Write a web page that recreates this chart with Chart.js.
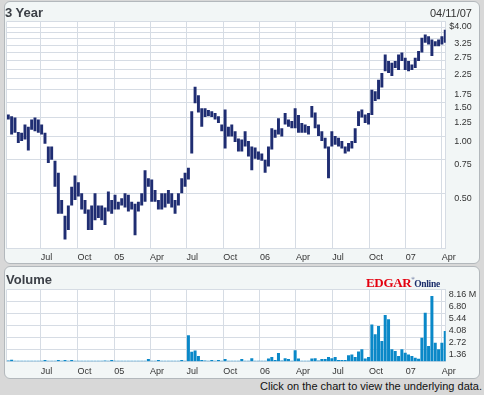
<!DOCTYPE html>
<html>
<head>
<meta charset="utf-8">
<script src="https://cdn.jsdelivr.net/npm/chart.js@4.4.0/dist/chart.umd.min.js"></script>
<style>
  body { margin: 0; width: 484px; height: 395px; overflow: hidden; background: #d8d8d8; position: relative;
         font-family: "Liberation Sans", Arial, sans-serif; }
  .panel { position: absolute; left: 4px; width: 476px; background: #f2f6f6; border: 1px solid #b3b8bc;
           border-radius: 6px; box-sizing: border-box; }
  #p1 { top: 1px; height: 263px; }
  #p2 { top: 266px; height: 113px; }
  canvas { position: absolute; left: 0; }
  #priceCanvas { top: 0; }
  #volCanvas { top: 264px; }
  .txt { position: absolute; white-space: nowrap; color: #3c4047; }
  #title1 { left: 5px; top: 6px; font: bold 13px/13px "Liberation Sans", Arial, sans-serif; }
  #asof { right: 12px; top: 8px; font: 11px/11px "Liberation Sans", Arial, sans-serif; color: #333; }
  #title2 { left: 6px; top: 273px; font: bold 13px/13px "Liberation Sans", Arial, sans-serif; }
  #logo { left: 366px; top: 272px; font: bold 13px/13px "Liberation Serif", "Times New Roman", serif; letter-spacing: -0.3px; }
  #logo .e { color: #e4000f; }
  #logo .o { color: #1b2d6b; font-size: 9.5px; }
  #logo .r { color: #1b2d6b; font-size: 4px; vertical-align: 7px; }
  #note { right: 2px; top: 381px; font: 11px/11px "Liberation Sans", Arial, sans-serif; color: #111; }
</style>
</head>
<body>
<div class="panel" id="p1"></div>
<div class="panel" id="p2"></div>
<canvas id="priceCanvas" width="484" height="263"></canvas>
<canvas id="volCanvas" width="484" height="116"></canvas>
<div class="txt" id="title1">3 Year</div>
<div class="txt" id="asof">04/11/07</div>
<div class="txt" id="title2">Volume</div>
<div class="txt" id="logo"><span class="e">EDGAR</span><span class="r">®</span><span class="o">Online</span></div>
<div class="txt" id="note">Click on the chart to view the underlying data.</div>
<script>
// sampled about every 6 trading days, first sample 4 days after the axis start
const axisStart = Date.UTC(2004, 3, 7);
const axisEnd = Date.UTC(2007, 3, 11);
const firstSampleDay = 4;
const sampleStepDays = 8.35;

const monthTickDates = ['2004-07-01', '2004-10-01', '2005-01-01', '2005-04-01', '2005-07-01', '2005-10-01',
  '2006-01-01', '2006-04-01', '2006-07-01', '2006-10-01', '2007-01-01', '2007-04-01'];
const monthTickLabels = ['Jul', 'Oct', '05', 'Apr', 'Jul', 'Oct', '06', 'Apr', 'Jul', 'Oct', '07', 'Apr'];

const priceGrid = [0.5, 0.75, 1, 1.25, 1.5, 1.75, 2, 2.25, 2.5, 2.75, 3, 3.25, 3.5, 3.75, 4];
const priceLabelled = [0.5, 0.75, 1, 1.25, 1.5, 1.75, 2.25, 2.75, 3.25, 4];
const volumeTicks = [0, 1.36, 2.72, 4.08, 5.44, 6.8, 8.16];

const highs = [1.30, 1.27, 1.25, 1.05, 1.04, 1.15, 1.12, 1.22, 1.25, 1.22, 1.15, 1.04, 0.88, 0.88, 0.74, 0.64,
  0.46, 0.38, 0.43, 0.54, 0.62, 0.57, 0.50, 0.46, 0.41, 0.43, 0.50, 0.43, 0.43, 0.42, 0.51, 0.46,
  0.49, 0.45, 0.47, 0.50, 0.49, 0.45, 0.44, 0.45, 0.50, 0.66, 0.60, 0.59, 0.52, 0.46, 0.50, 0.50,
  0.52, 0.50, 0.46, 0.50, 0.60, 0.64, 0.68, 1.35, 1.82, 1.64, 1.40, 1.40, 1.37, 1.35, 1.32, 1.27,
  1.15, 1.38, 1.12, 1.15, 1.06, 0.97, 0.96, 1.06, 0.94, 0.88, 0.87, 0.83, 0.81, 0.75, 0.88, 1.10,
  1.08, 1.24, 1.10, 1.32, 1.22, 1.20, 1.40, 1.29, 1.17, 1.15, 1.13, 1.44, 1.33, 1.15, 1.06, 0.98,
  0.88, 1.06, 1.00, 0.98, 0.94, 0.88, 0.92, 0.94, 1.10, 1.35, 1.38, 1.30, 1.32, 1.75, 1.72, 1.98,
  2.15, 2.69, 2.48, 2.43, 2.48, 2.69, 2.75, 2.58, 2.48, 2.38, 2.58, 2.80, 3.29, 3.42, 3.35, 3.22,
  3.16, 3.22, 3.35, 3.63];
const lows = [1.22, 1.02, 1.04, 0.92, 0.94, 0.96, 0.84, 1.08, 1.06, 1.04, 1.02, 0.91, 0.72, 0.75, 0.54, 0.39,
  0.39, 0.285, 0.32, 0.43, 0.46, 0.48, 0.41, 0.39, 0.32, 0.32, 0.36, 0.37, 0.36, 0.34, 0.40, 0.39,
  0.41, 0.41, 0.43, 0.42, 0.40, 0.41, 0.30, 0.40, 0.43, 0.45, 0.54, 0.45, 0.45, 0.41, 0.41, 0.42,
  0.44, 0.42, 0.39, 0.43, 0.50, 0.54, 0.59, 0.81, 1.49, 1.33, 1.12, 1.26, 1.27, 1.26, 1.22, 1.17,
  1.06, 0.86, 0.995, 0.995, 0.93, 0.83, 0.83, 0.88, 0.78, 0.66, 0.76, 0.75, 0.74, 0.64, 0.69, 0.85,
  0.98, 1.02, 0.995, 1.15, 1.12, 1.10, 1.10, 1.04, 1.04, 1.04, 1.02, 1.25, 1.10, 1.00, 0.94, 0.86,
  0.60, 0.88, 0.90, 0.88, 0.86, 0.81, 0.83, 0.86, 0.92, 1.13, 1.25, 1.17, 1.15, 1.29, 1.53, 1.56,
  1.80, 2.19, 2.15, 2.07, 2.28, 2.23, 2.48, 2.23, 2.19, 2.23, 2.28, 2.48, 2.75, 3.10, 3.03, 2.64,
  2.97, 2.97, 3.03, 3.10];
// volume in millions of shares
const volumes = [0.15, 0.22, 0.11, 0.11, 0.11, 0.11, 0.11, 0.11, 0.11, 0.11, 0.11, 0.18, 0.11, 0.11, 0.11, 0.18,
  0.11, 0.18, 0.11, 0.18, 0.11, 0.11, 0.11, 0.11, 0.11, 0.11, 0.11, 0.11, 0.11, 0.15, 0.11, 0.20,
  0.11, 0.11, 0.11, 0.11, 0.11, 0.11, 0.11, 0.11, 0.11, 0.11, 0.30, 0.11, 0.11, 0.18, 0.11, 0.11,
  0.11, 0.11, 0.11, 0.11, 0.18, 0.11, 3.00, 1.13, 1.28, 0.64, 0.19, 0.15, 0.12, 0.20, 0.11, 0.20,
  0.11, 0.30, 0.11, 0.11, 0.11, 0.11, 0.30, 0.11, 0.11, 0.40, 0.11, 0.11, 0.11, 0.11, 0.35, 0.53,
  0.20, 1.00, 0.15, 0.40, 0.30, 0.12, 1.30, 0.35, 0.12, 0.12, 0.12, 0.35, 0.40, 0.15, 0.30, 0.30,
  0.53, 0.40, 0.53, 0.20, 0.20, 0.20, 0.72, 0.83, 0.53, 1.17, 1.40, 0.35, 0.53, 4.23, 3.10, 4.04,
  2.34, 5.29, 4.80, 1.40, 1.21, 0.64, 1.40, 1.02, 0.83, 0.64, 0.45, 0.34, 2.72, 5.55, 1.78, 7.44,
  2.15, 1.40, 2.15, 3.48];

const dayOf = (iso) => (Date.parse(iso) - axisStart) / 864e5;
const maxDay = (axisEnd - axisStart) / 864e5;
const monthTicks = monthTickDates.map(dayOf);
const sampleDays = highs.map((h, i) => firstSampleDay + i * sampleStepDays);

const gridColor = '#d6dce4';
const tickFont = { family: '"Liberation Sans", Arial, sans-serif', size: 9 };

const plotBg = {
  id: 'plotBg',
  beforeDraw(chart) {
    const { ctx, chartArea: a } = chart;
    ctx.save();
    ctx.fillStyle = '#ffffff';
    ctx.fillRect(a.left, a.top, a.right - a.left, a.bottom - a.top);
    ctx.restore();
  }
};

const timeAxis = (height, pad) => ({
  type: 'linear',
  min: 0,
  max: maxDay,
  offset: false,
  afterBuildTicks: (scale) => {
    scale.ticks = [0, ...monthTicks].map(value => ({ value }));
  },
  afterFit: (scale) => { scale.height = height; },
  grid: { color: gridColor, drawTicks: false, offset: false },
  border: { color: gridColor },
  ticks: {
    autoSkip: false, maxRotation: 0, align: 'start', padding: pad, color: '#333', font: tickFont,
    callback: (v, i) => i === 0 ? '' : monthTickLabels[i - 1]
  }
});

new Chart(document.getElementById('priceCanvas'), {
  type: 'bar',
  data: {
    datasets: [{
      data: sampleDays.map((d, i) => ({ x: d, y: [lows[i], highs[i]] })),
      backgroundColor: '#1f2d72',
      barPercentage: 0.88,
      categoryPercentage: 1
    }]
  },
  options: {
    responsive: false,
    animation: false,
    // price labels are right aligned to the end of the y axis box
    layout: { padding: { left: 6.7, top: 21.7, right: 12.3, bottom: 0 } },
    plugins: { legend: { display: false }, tooltip: { enabled: false } },
    scales: {
      x: timeAxis(263 - 248.7, 3),
      y: {
        type: 'logarithmic',
        position: 'right',
        min: 0.255,
        max: 4,
        afterBuildTicks: (scale) => {
          scale.ticks = priceGrid.map(value => ({ value }));
        },
        afterFit: (scale) => { scale.width = 26; },
        grid: { color: gridColor, drawTicks: false },
        border: { color: gridColor },
        ticks: {
          autoSkip: false, crossAlign: 'far', padding: 2, labelOffset: 5, color: '#333', font: tickFont,
          callback: (v) => priceLabelled.includes(v) ? (v === 4 ? '$4.00' : v.toFixed(2)) : ''
        }
      }
    }
  },
  plugins: [plotBg]
});

new Chart(document.getElementById('volCanvas'), {
  type: 'bar',
  data: {
    datasets: [{
      data: sampleDays.map((d, i) => ({ x: d, y: volumes[i] })),
      backgroundColor: '#0a88c8',
      barPercentage: 0.9,
      categoryPercentage: 1
    }]
  },
  options: {
    responsive: false,
    animation: false,
    layout: { padding: { left: 6.7, top: 25.7, right: 0, bottom: 0 } },
    plugins: { legend: { display: false }, tooltip: { enabled: false } },
    scales: {
      x: timeAxis(116 - 97.7, 4),
      y: {
        type: 'linear',
        position: 'right',
        min: 0,
        max: 8.16,
        afterBuildTicks: (scale) => {
          scale.ticks = volumeTicks.map(value => ({ value }));
        },
        afterFit: (scale) => { scale.width = 38.3; },
        grid: { color: gridColor, drawTicks: false },
        border: { color: gridColor },
        ticks: {
          autoSkip: false, crossAlign: 'near', padding: 3, labelOffset: 5, color: '#333', font: tickFont,
          callback: (v) => v === 0 ? '' : (v === 8.16 ? '8.16 M' : v.toFixed(2))
        }
      }
    }
  },
  plugins: [plotBg]
});
</script>
</body>
</html>
